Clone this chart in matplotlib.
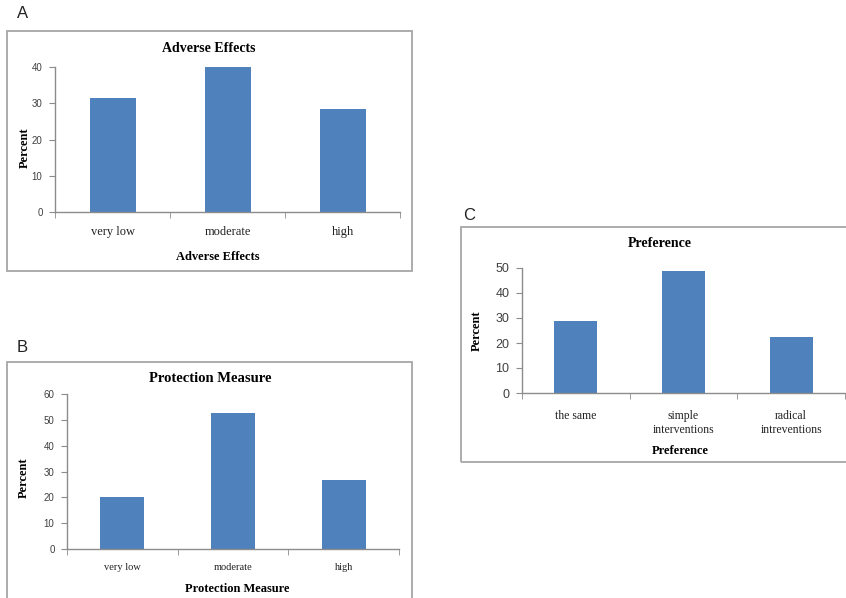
import matplotlib.pyplot as plt
from matplotlib.patches import Rectangle
from matplotlib.ticker import FixedLocator

W, H = 846, 598

# panel A
adverse_cats = ["very low", "moderate", "high"]
adverse_vals = [31.4, 40.0, 28.4]

# panel B
protect_cats = ["very low", "moderate", "high"]
protect_vals = [20.1, 52.7, 26.7]

# panel C
pref_cats = ["the same", "simple\ninterventions", "radical\nintreventions"]
pref_vals = [28.8, 48.8, 22.4]

BAR = "#4F81BD"
AXIS = "#8c8c8c"
FRAME = "#a6a6a6"
SERIF = "Liberation Serif"
SANS = "Liberation Sans"


def px(x, y):
    return x / W, 1 - y / H


def axes_at(fig, left, top, right, bottom):
    x0, y0 = px(left, bottom)
    x1, y1 = px(right, top)
    return fig.add_axes([x0, y0, x1 - x0, y1 - y0])


def bar_panel(ax, cats, vals, ymax, step, tick_size, ytick_size, pad, va):
    x = range(len(cats))
    ax.bar(x, vals, width=0.4, color=BAR, zorder=2)
    ax.set_xlim(-0.5, len(cats) - 0.5)
    ax.set_ylim(0, ymax)
    ax.set_yticks(range(0, ymax + 1, step))
    ax.set_xticks(list(x))
    ax.set_xticklabels(cats, fontfamily=SERIF, fontsize=tick_size, color="#222222",
                       linespacing=1.25, va=va)
    ax.xaxis.set_minor_locator(FixedLocator([i - 0.5 for i in range(len(cats) + 1)]))
    ax.tick_params(axis="x", which="major", length=0, pad=pad)
    ax.tick_params(axis="x", which="minor", length=4, color=AXIS, direction="out")
    ax.tick_params(axis="y", length=4, color=AXIS, labelsize=ytick_size,
                   labelcolor="#404040", pad=5)
    for lab in ax.get_yticklabels():
        lab.set_fontfamily(SANS)
    for s in ("top", "right"):
        ax.spines[s].set_visible(False)
    for s in ("left", "bottom"):
        ax.spines[s].set_color(AXIS)
        ax.spines[s].set_linewidth(1.0)
    ax.set_facecolor("none")


fig = plt.figure(figsize=(W / 100, H / 100), dpi=100)

# grey frames around each chart
for (l, t, r, b) in [(7, 31, 412, 271), (7, 362, 412, 604), (461, 227, 850, 462)]:
    x0, y0 = px(l, b)
    x1, y1 = px(r, t)
    fig.add_artist(Rectangle((x0, y0), x1 - x0, y1 - y0, transform=fig.transFigure,
                             fill=False, edgecolor=FRAME, linewidth=1.3))

# panel letters
for letter, (lx, ly) in zip("ABC", [(23, 13), (22, 347), (469, 215)]):
    fig.text(*px(lx, ly), letter, fontfamily=SANS, fontsize=12, ha="center",
             va="center", color="#222222")

# A
axA = axes_at(fig, 55, 67, 400, 212)
bar_panel(axA, adverse_cats, adverse_vals, 40, 10, 9, 7, 16.5, "baseline")
fig.text(*px(209, 48), "Adverse Effects", fontfamily=SERIF, fontweight="bold",
         fontsize=10, ha="center", va="center")
fig.text(*px(218, 257), "Adverse Effects", fontfamily=SERIF, fontweight="bold",
         fontsize=9, ha="center", va="center")
fig.text(*px(25, 148), "Percent", fontfamily=SERIF, fontweight="bold",
         fontsize=9, ha="center", va="center", rotation=90)

# B
axB = axes_at(fig, 67, 394, 399, 549)
bar_panel(axB, protect_cats, protect_vals, 60, 10, 7.5, 7, 15, "baseline")
fig.text(*px(210, 378), "Protection Measure", fontfamily=SERIF, fontweight="bold",
         fontsize=10.5, ha="center", va="center")
fig.text(*px(237, 589), "Protection Measure", fontfamily=SERIF, fontweight="bold",
         fontsize=9, ha="center", va="center")
fig.text(*px(24, 478), "Percent", fontfamily=SERIF, fontweight="bold",
         fontsize=9, ha="center", va="center", rotation=90)

# C
axC = axes_at(fig, 522, 268, 845, 393)
bar_panel(axC, pref_cats, pref_vals, 50, 10, 8.5, 9, 12, "top")
fig.text(*px(660, 244), "Preference", fontfamily=SERIF, fontweight="bold",
         fontsize=10, ha="center", va="center")
fig.text(*px(680, 451), "Preference", fontfamily=SERIF, fontweight="bold",
         fontsize=9, ha="center", va="center")
fig.text(*px(477, 331), "Percent", fontfamily=SERIF, fontweight="bold",
         fontsize=9, ha="center", va="center", rotation=90)

fig.savefig("out.png", dpi=100)
